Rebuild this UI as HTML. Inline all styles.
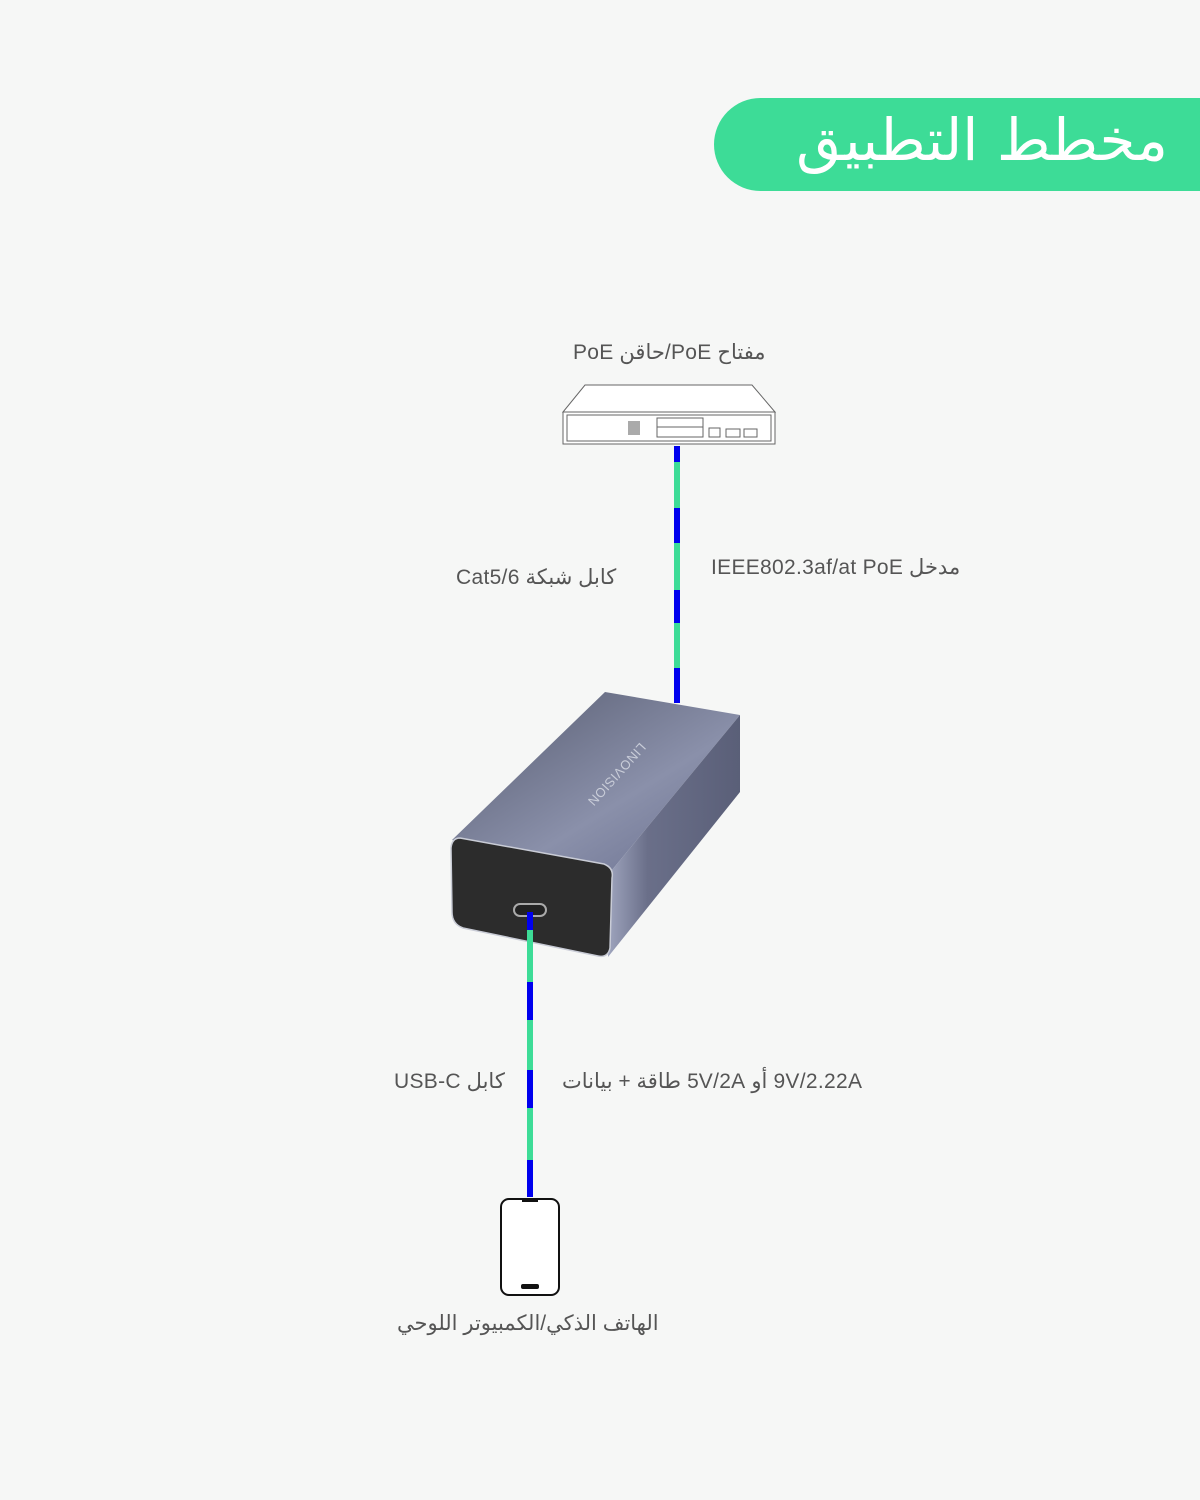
<!DOCTYPE html>
<html><head><meta charset="utf-8"><style>
body{margin:0;width:1200px;height:1500px;background:#f6f7f6;position:relative;overflow:hidden;font-family:"Liberation Sans","Noto Sans CJK SC",sans-serif;}
.t{position:absolute;color:#555;font-size:21px;white-space:nowrap;letter-spacing:0.3px;}
</style></head><body>
<div style="position:absolute;left:714px;top:98px;width:520px;height:93px;background:#3ddc97;border-radius:47px 0 0 47px;"></div>
<div dir="rtl" style="position:absolute;right:32px;top:100px;color:#fff;font-size:58px;line-height:80px;font-family:'DejaVu Sans',sans-serif;">مخطط التطبيق</div>
<div class="t" dir="rtl" style="left:573px;top:340px;">مفتاح PoE/حاقن PoE</div>
<div class="t" dir="rtl" style="left:456px;top:565px;">كابل شبكة Cat5/6</div>
<div class="t" dir="rtl" style="left:711px;top:555px;">مدخل IEEE802.3af/at PoE</div>
<div class="t" dir="rtl" style="left:394px;top:1069px;">كابل USB-C</div>
<div class="t" dir="rtl" style="left:562px;top:1069px;">9V/2.22A أو 5V/2A طاقة + بيانات</div>
<div class="t" dir="rtl" style="left:397px;top:1311px;">الهاتف الذكي/الكمبيوتر اللوحي</div>
<svg width="1200" height="1500" style="position:absolute;left:0;top:0">
<defs>
<linearGradient id="tp" x1="0" y1="0" x2="1" y2="1"><stop offset="0" stop-color="#555a6e"/><stop offset="0.6" stop-color="#8a90aa"/><stop offset="1" stop-color="#6a7090"/></linearGradient>
<linearGradient id="sd" x1="0" y1="0" x2="1" y2="0"><stop offset="0" stop-color="#9ea4bd"/><stop offset="0.3" stop-color="#6a6f89"/><stop offset="1" stop-color="#5a5f78"/></linearGradient>
</defs>
<g fill="none" stroke="#666" stroke-width="1">
<polygon points="585,385 752,385 775,412 563,412" fill="#fff"/>
<rect x="563" y="412" width="212" height="32" fill="#fff"/>
<rect x="567" y="415" width="204" height="26"/>
<rect x="657" y="418" width="46" height="19"/>
<line x1="657" y1="427" x2="703" y2="427"/>
<rect x="709" y="428" width="11" height="9"/><rect x="726" y="429" width="14" height="8"/><rect x="744" y="429" width="13" height="8"/>
</g>
<rect x="628" y="421" width="12" height="14" fill="#aaa"/>
<line x1="677" y1="446" x2="677" y2="703" stroke="#3ddc97" stroke-width="6"/>
<g stroke="#0000ee" stroke-width="6"><line x1="677" y1="446" x2="677" y2="462"/><line x1="677" y1="508" x2="677" y2="543"/><line x1="677" y1="590" x2="677" y2="623"/><line x1="677" y1="668" x2="677" y2="703"/></g>
<polygon points="452,840 605,692 740,715 612,870" fill="url(#tp)"/>
<polygon points="612,870 740,715 740,792 608,957" fill="url(#sd)"/>
<path d="M460,838 L604,864 Q614,868 612,878 L610,948 Q608,958 598,956 L463,928 Q452,924 452,912 L451,848 Q452,838 460,838Z" fill="#2c2c2c" stroke="#c9ccd6" stroke-width="1.5"/>
<text x="0" y="0" transform="translate(640,742) rotate(132)" fill="#c8ccd8" font-size="13" font-family="Liberation Sans" letter-spacing="0.5">LINOVISION</text>
<rect x="514" y="904" width="32" height="12" rx="6" fill="#222" stroke="#aaa" stroke-width="2"/>
<line x1="530" y1="912" x2="530" y2="1197" stroke="#3ddc97" stroke-width="6"/>
<g stroke="#0000ee" stroke-width="6"><line x1="530" y1="912" x2="530" y2="930"/><line x1="530" y1="982" x2="530" y2="1020"/><line x1="530" y1="1070" x2="530" y2="1108"/><line x1="530" y1="1160" x2="530" y2="1197"/></g>
<rect x="501" y="1199" width="58" height="96" rx="8" fill="#fff" stroke="#111" stroke-width="2"/>
<rect x="521" y="1284" width="18" height="5" rx="2" fill="#111"/>
<rect x="522" y="1199" width="16" height="3" fill="#111"/>
</svg>
</body></html>
